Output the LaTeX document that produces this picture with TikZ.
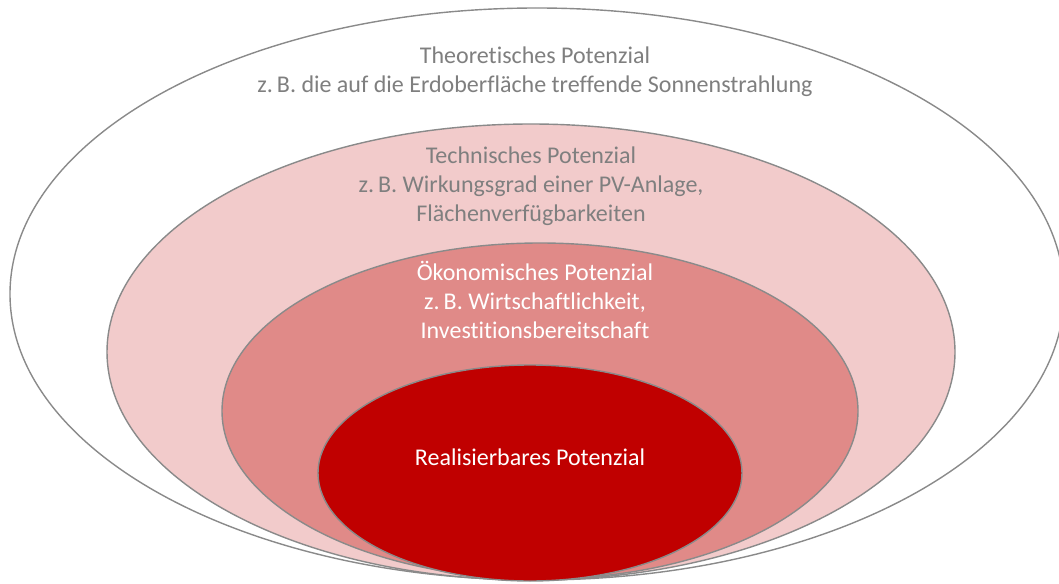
\documentclass[tikz,border=0pt]{standalone}
\usepackage{fontspec}
\setmainfont[Ligatures=CommonOff]{Carlito}
\usetikzlibrary{shapes.geometric}

\definecolor{rimgray}{HTML}{8A8A8A}
\definecolor{techpink}{HTML}{F2CBCB}
\definecolor{oekorose}{HTML}{E08A88}
\definecolor{realred}{HTML}{C00000}
\definecolor{textgray}{HTML}{7F7F7F}

\begin{document}
\begin{tikzpicture}[x=1pt, y=-1pt,
	ring/.style={ellipse, draw=rimgray, line width=1.4pt, inner sep=0pt},
	potext/.style={align=center, inner sep=0pt,
		font=\fontsize{24pt}{29pt}\selectfont}]
	
	% Size of the picture
	\useasboundingbox (0,0) rectangle (1059,583);
	
	% The nested ellipses, outermost first
	\node[ring, fill=white, minimum width=1054pt, minimum height=572pt] (theo) at (537,294) {};
	\node[ring, fill=techpink, minimum width=848pt, minimum height=456pt] (tech) at (531,352) {};
	\node[ring, fill=oekorose, minimum width=636pt, minimum height=336pt] (oeko) at (540,411) {};
	\node[ring, fill=realred, minimum width=424pt, minimum height=216pt] (real) at (530,473) {};
	
	% Labels
	\node[potext, text=textgray] (theotext) at (535,72) {Theoretisches Potenzial\\z.\,B. die auf die Erdoberfläche treffende Sonnenstrahlung};
	\node[potext, text=textgray] (techtext) at (531,186) {Technisches Potenzial\\z.\,B. Wirkungsgrad einer PV-Anlage,\\Flächenverfügbarkeiten};
	\node[potext, text=white] (oekotext) at (535,300) {Ökonomisches Potenzial\\z.\,B. Wirtschaftlichkeit,\\Investitionsbereitschaft};
	\node[potext, text=white] (realtext) at (530,457) {Realisierbares Potenzial};
	
\end{tikzpicture}
\end{document}
